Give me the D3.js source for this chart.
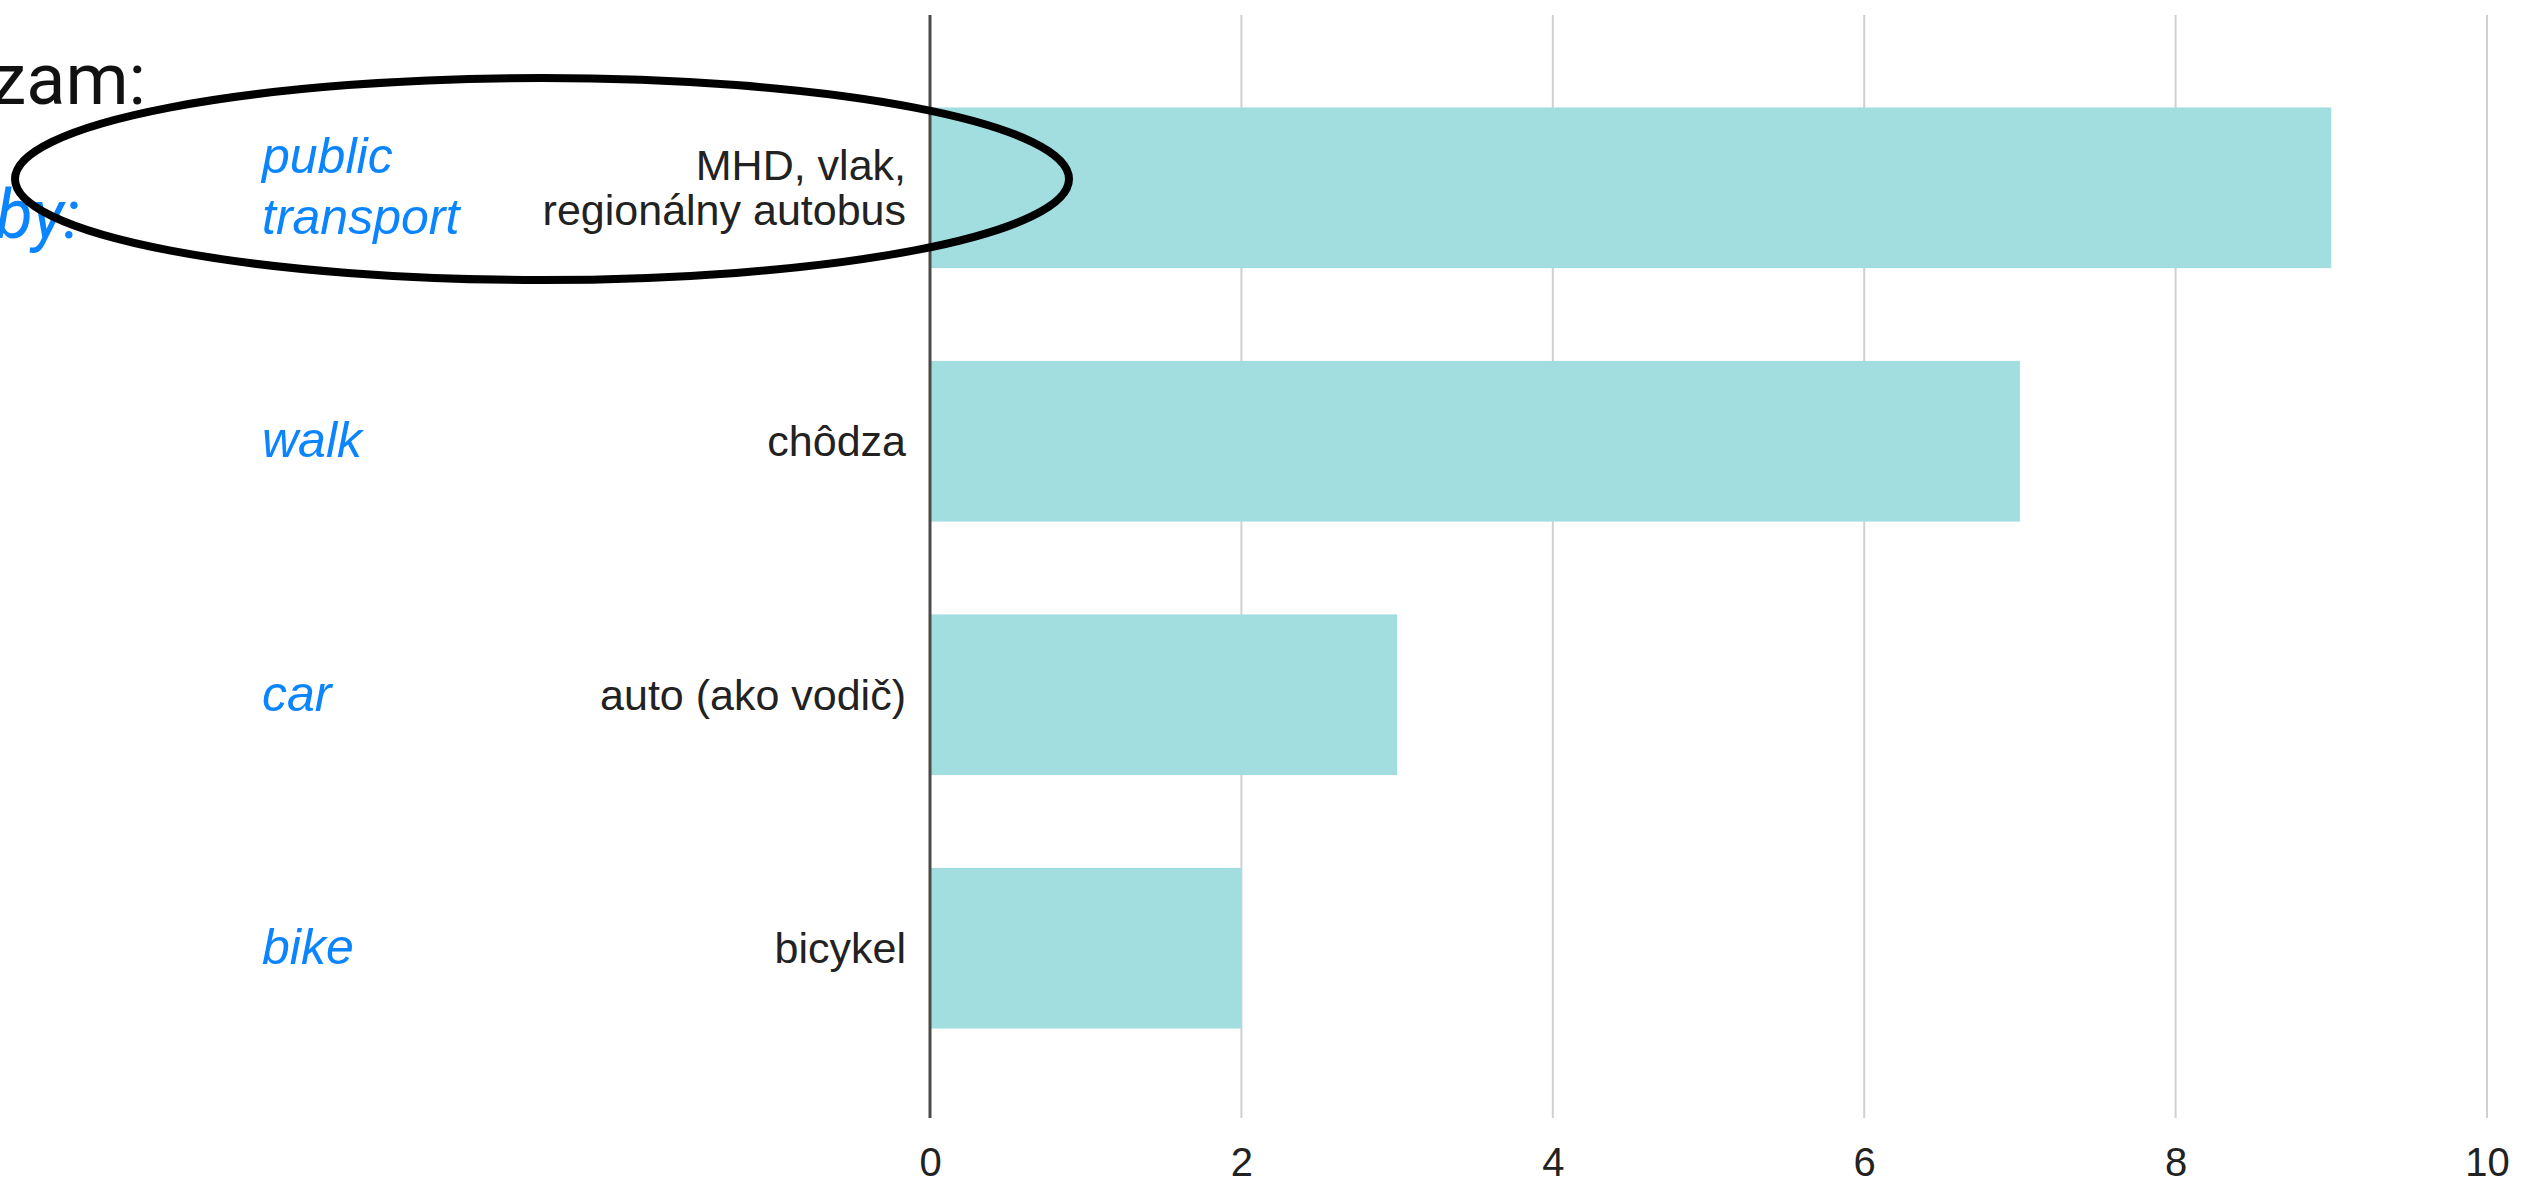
<!DOCTYPE html>
<html><head><meta charset="utf-8">
<script src="https://cdn.jsdelivr.net/npm/d3@7"></script>
<style>html,body{margin:0;padding:0;background:#fff;overflow:hidden}</style>
</head><body>
<script>
const categories = ["MHD, vlak,\nregionálny autobus", "chôdza", "auto (ako vodič)", "bicykel"];
const englishLabels = ["public\ntransport", "walk", "car", "bike"];
const values = [9, 7, 3, 2];
const tickValues = [0, 2, 4, 6, 8, 10];
const headingTexts = ["zam:", "by:"];

const W = 2535, H = 1186;
const svg = d3.select("body").append("svg").attr("width", W).attr("height", H);

const x = d3.scaleLinear().domain([0, 10]).range([930, 2487]);
const y = d3.scaleBand().domain(categories).range([20, 1116]).paddingInner(0.366).paddingOuter(0.345);

// gridlines
svg.append("g").selectAll("line").data(tickValues.filter(d => d > 0)).join("line")
  .attr("x1", d => x(d)).attr("x2", d => x(d)).attr("y1", 15).attr("y2", 1118)
  .attr("stroke", "#d0d0d0").attr("stroke-width", 2);

// bars
svg.append("g").selectAll("rect").data(values).join("rect")
  .attr("x", x(0)).attr("y", (d, i) => y(categories[i]))
  .attr("width", d => x(d) - x(0)).attr("height", y.bandwidth())
  .attr("fill", "#a2dedf");

// zero axis line
svg.append("line").attr("x1", x(0)).attr("x2", x(0)).attr("y1", 15).attr("y2", 1118)
  .attr("stroke", "#4a4a4a").attr("stroke-width", 3);

// x tick labels
const xAxis = d3.axisBottom(x).tickValues(tickValues).tickSize(0).tickPadding(0).tickFormat(d3.format("d"));
const gx = svg.append("g").attr("transform", "translate(0,1147)").call(xAxis);
gx.select(".domain").remove();
gx.selectAll("text").attr("dy", "0.72em").attr("font-family", "Liberation Sans, Arial, sans-serif")
  .attr("font-size", 40).attr("fill", "#222");

// category labels (Slovak)
const catG = svg.append("g");
categories.forEach((c, i) => {
  const lines = c.split("\n");
  const cy = y(c) + y.bandwidth() / 2;
  const lh = 45;
  const t = catG.append("text").attr("text-anchor", "end")
    .attr("font-family", "Liberation Sans, Arial, sans-serif").attr("font-size", 43).attr("fill", "#222");
  lines.forEach((ln, j) => {
    t.append("tspan").attr("x", 906)
      .attr("y", cy + (j - (lines.length - 1) / 2) * lh).attr("dy", "0.35em").text(ln);
  });
});

// English labels
const enG = svg.append("g");
englishLabels.forEach((c, i) => {
  const lines = c.split("\n");
  const cy = y(categories[i]) + y.bandwidth() / 2;
  const lh = 61;
  const t = enG.append("text").attr("text-anchor", "start")
    .attr("font-family", "Liberation Sans, Arial, sans-serif").attr("font-style", "italic")
    .attr("font-size", 50).attr("fill", "#0a84ff");
  lines.forEach((ln, j) => {
    t.append("tspan").attr("x", 262)
      .attr("y", cy + (j - (lines.length - 1) / 2) * lh).attr("dy", "0.32em").text(ln);
  });
});

// clipped heading fragments
svg.append("text").attr("x", 146).attr("y", 104).attr("text-anchor", "end")
  .attr("font-family", "Roboto, sans-serif").attr("font-size", 72).attr("fill", "#111").text(headingTexts[0]);
svg.append("text").attr("x", 80).attr("y", 238).attr("text-anchor", "end")
  .attr("font-family", "Roboto, sans-serif").attr("font-style", "italic")
  .attr("font-size", 68).attr("fill", "#0a84ff").text(headingTexts[1]);

// annotation ellipse
svg.append("ellipse").attr("cx", 542).attr("cy", 179).attr("rx", 527).attr("ry", 101)
  .attr("fill", "none").attr("stroke", "#000").attr("stroke-width", 8);
</script>
</body></html>
